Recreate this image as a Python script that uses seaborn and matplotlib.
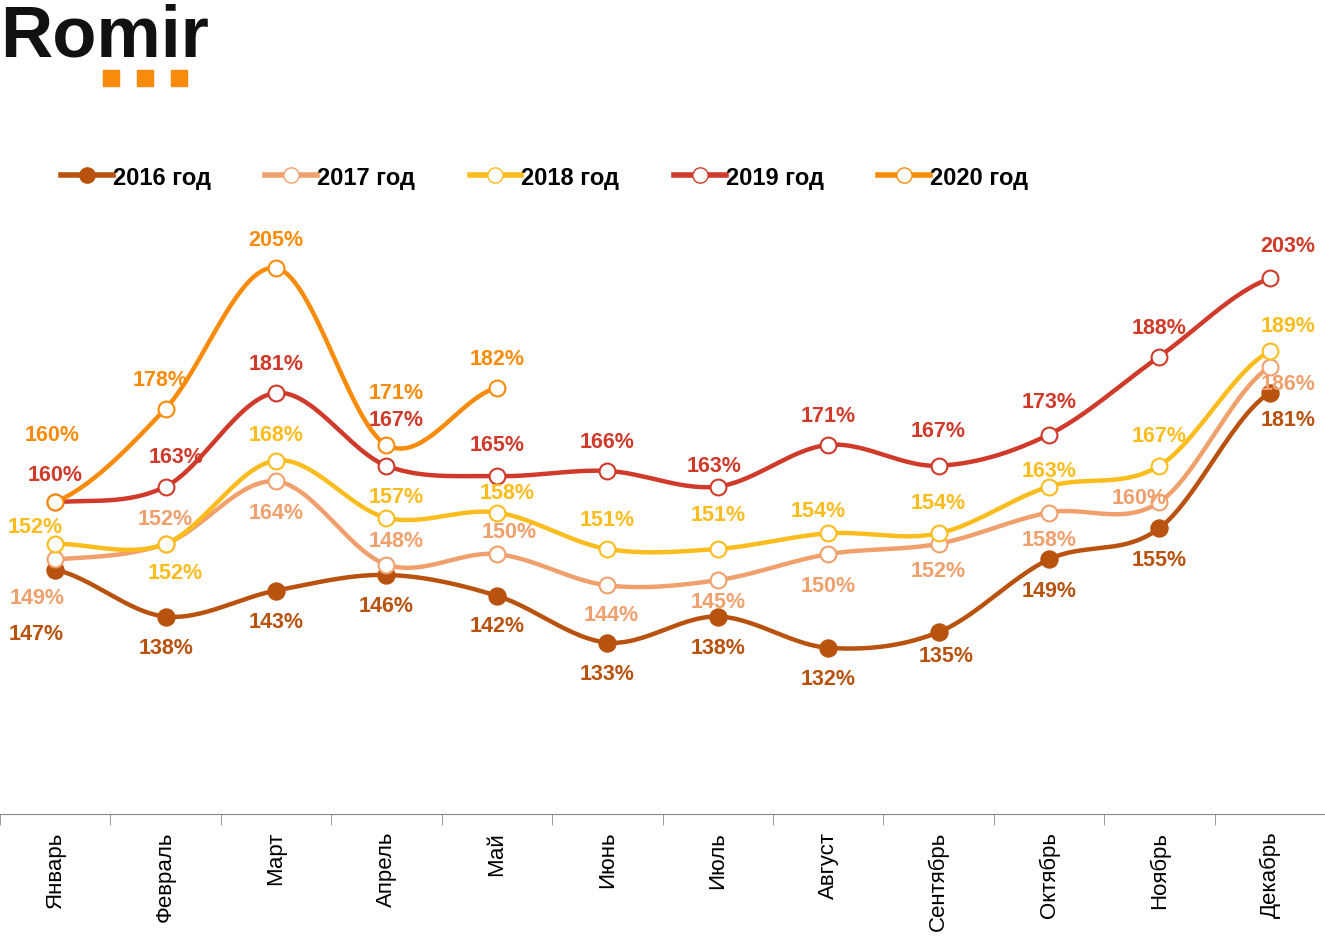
import numpy as np
import pandas as pd
import seaborn as sns
import matplotlib
matplotlib.use("Agg")
import matplotlib.pyplot as plt
from matplotlib.lines import Line2D

plt.rcParams["font.family"] = "Liberation Sans"

months = ["Январь","Февраль","Март","Апрель","Май","Июнь","Июль","Август","Сентябрь","Октябрь","Ноябрь","Декабрь"]
years = ["2016 год","2017 год","2018 год","2019 год","2020 год"]
v2016 = [147,138,143,146,142,133,138,132,135,149,155,181]
v2017 = [149,152,164,148,150,144,145,150,152,158,160,186]
v2018 = [152,152,168,157,158,151,151,154,154,163,167,189]
v2019 = [160,163,181,167,165,166,163,171,167,173,188,203]
v2020 = [160,178,205,171,182]
series = [v2016, v2017, v2018, v2019, v2020]
colors = ["#B8520E", "#F0A06C", "#FBBC1E", "#CF3A2A", "#F98B0A"]

offs = [
    [(-19,64),(0,31),(0,31),(0,31),(0,30),(0,31),(0,31),(0,31),(8,23),(0,31),(0,31),(18,27)],
    [(-18,38),(0,-25),(0,31),(10,-24),(12,-23),(4,29),(0,21),(0,31),(0,27),(0,27),(-20,-5),(18,17)],
    [(-20,-17),(10,29),(0,-26),(10,-21),(10,-20),(0,-29),(0,-34),(-10,-23),(0,-31),(0,-16),(0,-30),(18,-26)],
    [(0,-28),(10,-30),(0,-29),(10,-46),(0,-32),(0,-29),(-4,-21),(0,-29),(0,-35),(0,-33),(0,-29),(18,-33)],
    [(-3,-68),(-5,-29),(0,-29),(10,-52),(0,-29)],
]

def smooth(y):
    y = np.asarray(y, float); n = len(y)
    xs, ys = [], []
    for i in range(n - 1):
        p0 = y[max(i-1, 0)]; p1 = y[i]; p2 = y[i+1]; p3 = y[min(i+2, n-1)]
        t = np.linspace(0, 1, 30)
        yy = 0.5*((2*p1) + (-p0+p2)*t + (2*p0-5*p1+4*p2-p3)*t**2 + (-p0+3*p1-3*p2+p3)*t**3)
        xs.append(i + t); ys.append(yy)
    return np.concatenate(xs), np.concatenate(ys)

fig = plt.figure(figsize=(13.25, 9.37), dpi=100)
ax = fig.add_axes([0, 0.13, 1, 0.625])
for k, (vals, c) in enumerate(zip(series, colors)):
    sx, sy = smooth(vals)
    sns.lineplot(x=sx, y=sy, ax=ax, color=c, lw=3.2, sort=False, zorder=2+k)
    x = np.arange(len(vals))
    if k == 0:
        ax.scatter(x, vals, s=150, color=c, zorder=10+k, edgecolor=c)
    else:
        ax.scatter(x, vals, s=130, facecolor="white", edgecolor=c, linewidth=1.5, zorder=10+k)
    for i, v in enumerate(vals):
        dx, dy = offs[k][i]
        ax.annotate(f"{v}%", (i, v), xytext=(dx, -dy), textcoords="offset pixels",
                    ha="center", va="center", fontsize=15.5, fontweight="bold", color=c, zorder=20)

ax.set_xlim(-0.5, 11.5)
ax.set_ylim(100, 212.6)
ax.set_yticks([])
ax.set_xticks(range(12))
ax.set_xticklabels(months, rotation=90, fontsize=16)
ax.set_xticks(np.arange(-0.5, 12, 1), minor=True)
ax.tick_params(axis="x", which="major", length=0, pad=12)
ax.tick_params(axis="x", which="minor", length=8, color="#888888")
for s in ["top", "left", "right"]:
    ax.spines[s].set_visible(False)
ax.spines["bottom"].set_color("#888888")
ax.patch.set_alpha(0)

handles = []
for k, c in enumerate(colors):
    fc = c if k == 0 else "white"
    handles.append(Line2D([], [], color=c, lw=4, marker="o", markersize=11, markerfacecolor=fc))
fig.legend(handles, years, loc="center left", bbox_to_anchor=(0.03, 0.81), ncol=5, frameon=False,
           prop={"size": 17, "weight": "bold"}, handlelength=2.2, handletextpad=0.0, columnspacing=2.3)

fig.text(0.0, 0.96, "Romir", fontsize=52, fontweight="bold", va="center", ha="left", color="#111111")
for i in range(3):
    fig.patches.append(plt.Rectangle((0.078 + i*0.0255, 0.907), 0.012, 0.017, transform=fig.transFigure,
                                     color="#F98B0A", figure=fig))
fig.savefig("out.png", dpi=100)
